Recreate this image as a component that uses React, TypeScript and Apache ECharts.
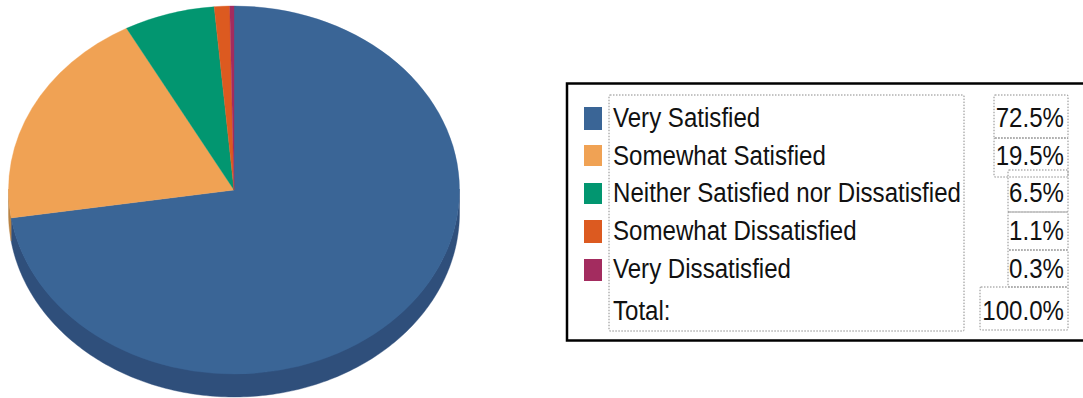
import React, { useEffect, useRef } from "react";
import * as echarts from "echarts";

const categories = [
  "Very Satisfied",
  "Somewhat Satisfied",
  "Neither Satisfied nor Dissatisfied",
  "Somewhat Dissatisfied",
  "Very Dissatisfied",
];
const percentages = [72.5, 19.5, 6.5, 1.1, 0.3];
const totalLabel = "Total:";
const totalValue = "100.0%";

const faceColors = ["#3a6596", "#f0a254", "#029670", "#dc5a20", "#a32c5f"];
const wallColors = ["#2f4f7b", "#b98345", "#02694e", "#9a3f16", "#721f43"];

// Pie geometry: an ellipse standing in for a tilted disc with a thick rim.
const CX = 234;
const CY = 190;
const RX = 225.5;
const RY = 184;
const DEPTH = 23;

// Legend table layout.
const textBaselines = [127, 165, 202, 240, 278, 320];
const swatchTops = [107, 145, 183, 220, 259];
const swatchHeights = [23, 21, 21, 23, 22];
const valueBoxes = [
  [994, 95, 74, 43],
  [994, 138, 74, 39],
  [1008, 170, 60, 42],
  [1008, 212, 60, 38],
  [1008, 250, 60, 37],
  [980, 287, 88, 43],
];
const FONT = "28px 'Liberation Sans', Arial, sans-serif";
const TEXT_SCALE = 0.86;

const sum = percentages.reduce((a, b) => a + b, 0);
const cumulative = percentages.reduce<number[]>(
  (acc, v) => [...acc, acc[acc.length - 1] + v],
  [0],
);
// Fraction of the circle, clockwise from 12 o'clock, to screen radians.
const toAngle = (share: number) => -Math.PI / 2 + (share / sum) * Math.PI * 2;

function renderFace(_: unknown, api: any) {
  const i = api.value(0);
  return {
    type: "sector",
    x: CX,
    y: CY,
    scaleY: RY / RX,
    shape: {
      cx: 0,
      cy: 0,
      r: RX,
      r0: 0,
      startAngle: toAngle(cumulative[i]),
      endAngle: toAngle(cumulative[i + 1]),
      clockwise: true,
    },
    style: { fill: faceColors[i], stroke: faceColors[i], lineWidth: 0.4 },
  };
}

// Rim of a slice: only the part of its arc that lies on the front of the disc.
function renderWall(_: unknown, api: any) {
  const i = api.value(0);
  const start = Math.max(toAngle(cumulative[i]), 0);
  const end = Math.min(toAngle(cumulative[i + 1]), Math.PI);
  if (end <= start) return { type: "group", children: [] };
  const top: number[][] = [];
  const bottom: number[][] = [];
  const steps = Math.max(2, Math.ceil((end - start) * 60));
  for (let s = 0; s <= steps; s++) {
    const a = start + ((end - start) * s) / steps;
    const x = CX + RX * Math.cos(a);
    const y = CY + RY * Math.sin(a);
    top.push([x, y - 1]);
    bottom.unshift([x, y + DEPTH]);
  }
  return {
    type: "polygon",
    shape: { points: [...top, ...bottom] },
    style: { fill: wallColors[i], stroke: wallColors[i], lineWidth: 0.4 },
  };
}

const dashedRect = (x: number, y: number, width: number, height: number) => ({
  type: "rect",
  shape: { x, y, width, height, r: 1 },
  style: { fill: "none", stroke: "#8a8a8a", lineWidth: 1, lineDash: [1.5, 1.5] },
});

const textAt = (text: string, x: number, baseline: number, align: string) => ({
  type: "text",
  x,
  y: baseline - 10,
  scaleX: TEXT_SCALE,
  style: { text, x: 0, y: 0, font: FONT, fill: "#111111", align, verticalAlign: "middle" },
});

function legendElements() {
  const elements: any[] = [
    {
      type: "rect",
      shape: { x: 567, y: 83.5, width: 530, height: 257 },
      style: { fill: "#ffffff", stroke: "#000000", lineWidth: 2.5 },
    },
    dashedRect(609, 95, 355, 236),
  ];
  valueBoxes.forEach(([x, y, w, h]) => elements.push(dashedRect(x, y, w, h)));
  categories.forEach((name, i) => {
    elements.push({
      type: "rect",
      shape: { x: 584, y: swatchTops[i], width: 18, height: swatchHeights[i] },
      style: { fill: faceColors[i] },
    });
    elements.push(textAt(name, 613, textBaselines[i], "left"));
    elements.push(textAt(`${percentages[i].toFixed(1)}%`, 1064, textBaselines[i], "right"));
  });
  elements.push(textAt(totalLabel, 613, textBaselines[5], "left"));
  elements.push(textAt(totalValue, 1064, textBaselines[5], "right"));
  return elements;
}

export default function App() {
  const ref = useRef<HTMLDivElement>(null);

  useEffect(() => {
    document.body.style.margin = "0";
    const chart = echarts.init(ref.current!, undefined, { renderer: "svg" });
    const data = percentages.map((v, i) => [i, v]);
    chart.setOption({
      animation: false,
      backgroundColor: "#ffffff",
      series: [
        { type: "custom", coordinateSystem: "none", z: 1, silent: true, data, renderItem: renderWall },
        { type: "custom", coordinateSystem: "none", z: 2, silent: true, data, renderItem: renderFace },
      ],
      graphic: { elements: legendElements() },
    });
    return () => chart.dispose();
  }, []);

  return <div ref={ref} style={{ width: 1083, height: 398 }} />;
}
